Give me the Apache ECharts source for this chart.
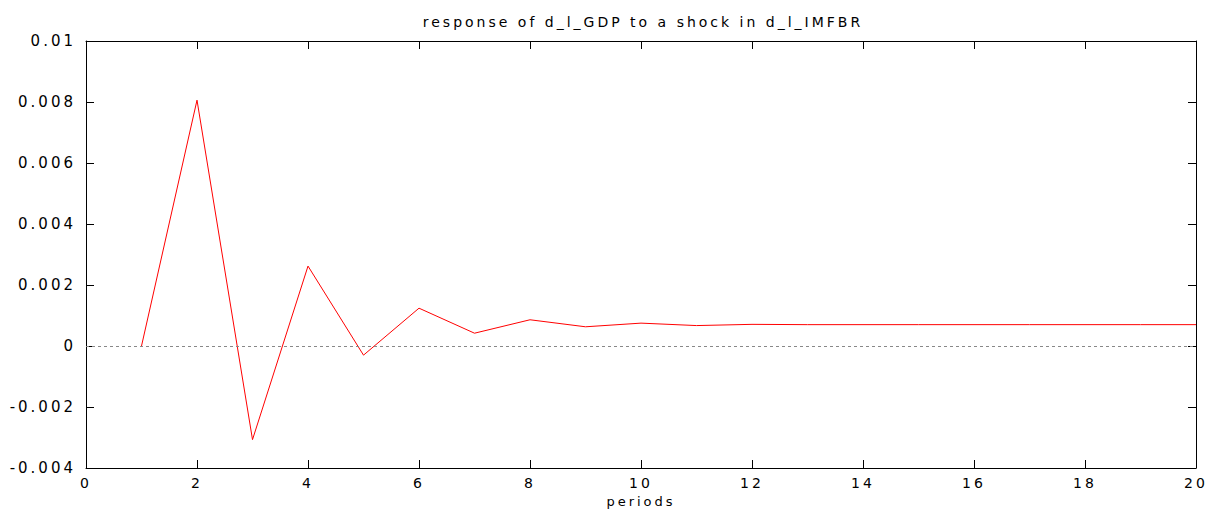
<!DOCTYPE html>
<html>
<head>
<meta charset="utf-8">
<script src="https://cdn.jsdelivr.net/npm/echarts@6/dist/echarts.min.js"></script>
<style>html,body{margin:0;padding:0;background:#fff}#c{width:1219px;height:509px}#c text{letter-spacing:3px}</style>
</head>
<body>
<div id="c"></div>
<script>
var periods = [1,2,3,4,5,6,7,8,9,10,11,12,13,14,15,16,17,18,19,20];
var response = [0, 0.00806, -0.00307, 0.00262, -0.0003, 0.00124, 0.00042, 0.00086, 0.00063, 0.00075, 0.00067, 0.00071, 0.0007, 0.0007, 0.0007, 0.0007, 0.0007, 0.0007, 0.0007, 0.0007];
var titleText = 'response of d_l_GDP to a shock in d_l_IMFBR';
var xLabel = 'periods';

var data = periods.map(function(p, i){ return [p, response[i]]; });
var font = 'DejaVu Sans';
var chart = echarts.init(document.getElementById('c'), null, {renderer:'svg'});
var tickStyle = {show:true, inside:true, length:8, lineStyle:{color:'#000', width:1}};
chart.setOption({
  animation:false,
  title:{text:titleText, left:638, top:10, textAlign:'center',
    textStyle:{fontFamily:font, fontSize:14, fontWeight:'normal', color:'#000'}},
  grid:{left:86, right:23, top:41, bottom:41, outerBoundsMode:'none', containLabel:false},
  xAxis:[{
    type:'value', min:0, max:20, interval:2, position:'bottom',
    name:xLabel, nameLocation:'middle', nameGap:24,
    nameTextStyle:{fontFamily:font, fontSize:13, color:'#000'},
    axisLine:{show:true, onZero:false, lineStyle:{color:'#000', width:1}},
    axisTick:tickStyle,
    axisLabel:{fontFamily:font, fontSize:14, color:'#000', margin:8},
    splitLine:{show:false}
  },{
    type:'value', min:0, max:20, interval:2, position:'top',
    axisLine:{show:true, onZero:false, lineStyle:{color:'#000', width:1}},
    axisTick:tickStyle, axisLabel:{show:false}, splitLine:{show:false}
  }],
  yAxis:[{
    type:'value', min:-0.004, max:0.01, interval:0.002, position:'left',
    axisLine:{show:true, onZero:false, lineStyle:{color:'#000', width:1}},
    axisTick:tickStyle,
    axisLabel:{fontFamily:font, fontSize:15, color:'#000', margin:10,
      formatter:function(v){ return (Math.round(v*1000)/1000).toString(); }},
    splitLine:{show:false}
  },{
    type:'value', min:-0.004, max:0.01, interval:0.002, position:'right',
    axisLine:{show:true, onZero:false, lineStyle:{color:'#000', width:1}},
    axisTick:tickStyle, axisLabel:{show:false}, splitLine:{show:false}
  }],
  series:[{
    type:'line', data:data, xAxisIndex:0, yAxisIndex:0,
    showSymbol:false, symbol:'none',
    lineStyle:{color:'#ff0000', width:1},
    markLine:{silent:true, symbol:'none', label:{show:false},
      lineStyle:{color:'#888', type:[3,3], width:1.2},
      data:[{yAxis:0}]}
  }]
});
</script>
</body>
</html>
